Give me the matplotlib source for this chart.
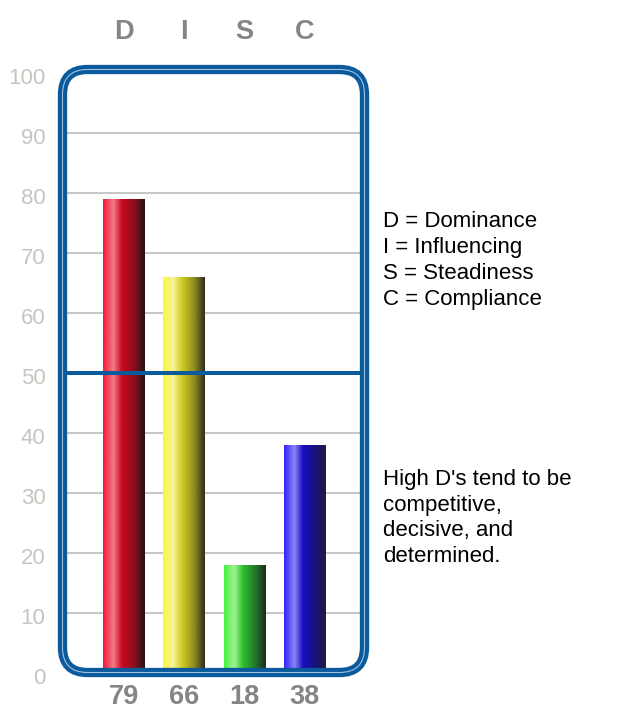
import numpy as np
import matplotlib
matplotlib.use("Agg")
import matplotlib.pyplot as plt
from matplotlib.colors import LinearSegmentedColormap
from matplotlib.patches import FancyBboxPatch
import matplotlib.transforms as mtransforms

# ---- data ----
categories = ["D", "I", "S", "C"]
scores = [79, 66, 18, 38]
ytick_values = [0, 10, 20, 30, 40, 50, 60, 70, 80, 90, 100]
legend_lines = ["D = Dominance", "I = Influencing", "S = Steadiness", "C = Compliance"]
description_lines = ["High D's tend to be", "competitive,", "decisive, and", "determined."]
midline_value = 50

# gradient stops per bar (left -> right)
bar_gradients = [
    ["#f21a34", "#f27a88", "#cc0a20", "#8a101e", "#241214"],
    ["#faf83a", "#f6f29a", "#d2cc22", "#8c8a22", "#2e2c1c"],
    ["#46f23c", "#9ef296", "#32c02c", "#22762a", "#1e2a1e"],
    ["#3422fa", "#8c86f6", "#1a0ec4", "#18127e", "#221c3c"],
]

W, H = 627, 725
DPI = 100
plt.rcParams["font.family"] = ["Liberation Sans", "DejaVu Sans"]

fig = plt.figure(figsize=(W / DPI, H / DPI), dpi=DPI)
fig.patch.set_facecolor("white")

# main axes in pixel layout
x_left, x_right = 67, 361
y_zero, y_top = 673, 73
ax = fig.add_axes([x_left / W, (H - y_zero) / H, (x_right - x_left) / W, (y_zero - y_top) / H])
for s in ax.spines.values():
    s.set_visible(False)
ax.set_xticks([])

# gridlines
for v in ytick_values[1:-1]:
    if v == midline_value:
        continue
    ax.axhline(v, color="#c8c8c8", lw=1.5, zorder=1)
ax.axhline(midline_value, color="#0b5a9c", lw=2.9, zorder=4)

# bars (shape from library, fill by gradient images)
x = np.arange(len(categories))
bars = ax.bar(x, scores, width=0.68, color="none", edgecolor="none", zorder=3)
grad = np.linspace(0, 1, 256).reshape(1, -1)
for b, stops in zip(bars, bar_gradients):
    cmap = LinearSegmentedColormap.from_list(
        "g", list(zip([0.0, 0.25, 0.45, 0.75, 1.0], stops)))
    x0, y0 = b.get_x(), b.get_y()
    ax.imshow(grad, cmap=cmap, aspect="auto", interpolation="bilinear",
              extent=(x0, x0 + b.get_width(), y0, y0 + b.get_height()), zorder=3)
ax.set_xlim(-0.934, 3.926)
ax.set_ylim(0, 100)

# y tick labels
ax.set_yticks(ytick_values)
ax.set_yticklabels([str(v) for v in ytick_values], fontsize=16, color="#c9c4bf")
ax.tick_params(axis="y", length=0, pad=15.5)
off = mtransforms.ScaledTranslation(0, -3 / DPI, fig.dpi_scale_trans)
for lab in ax.get_yticklabels():
    lab.set_transform(lab.get_transform() + off)

# category letters on top and values at bottom
for xi, cat, val in zip(x, categories, scores):
    ax.annotate(cat, xy=(xi, 100), xycoords="data", xytext=(0, 29.5),
                textcoords="offset points", ha="center", va="center",
                fontsize=19.5, fontweight="bold", color="#858585", annotation_clip=False)
    ax.annotate(str(val), xy=(xi, 0), xycoords="data", xytext=(0, -17.5),
                textcoords="offset points", ha="center", va="center",
                fontsize=19.5, fontweight="bold", color="#858585", annotation_clip=False)

# frame overlay in pixel coords
ov = fig.add_axes([0, 0, 1, 1], zorder=10)
ov.set_xlim(0, W)
ov.set_ylim(H, 0)
ov.axis("off")
ov.patch.set_alpha(0)
fx0, fx1, fy0, fy1 = 62.5, 364.5, 69.5, 672.5
r = 25
for lw, col in [(6.7, "#0b5a9c"), (0.8, "#9cc0e2")]:
    p = FancyBboxPatch((fx0 + r, fy0 + r), (fx1 - fx0) - 2 * r, (fy1 - fy0) - 2 * r,
                       boxstyle=f"round,pad={r},rounding_size={r}",
                       fill=False, edgecolor=col, lw=lw)
    ov.add_patch(p)

# right-hand text
tx = 383
for i, line in enumerate(legend_lines):
    ov.text(tx, 227.3 + i * 25.9, line, fontsize=16, color="black", ha="left", va="baseline")
for i, line in enumerate(description_lines):
    ov.text(tx, 485 + i * 25.6, line, fontsize=16, color="black", ha="left", va="baseline")

fig.savefig("out.png", dpi=DPI, facecolor="white")
